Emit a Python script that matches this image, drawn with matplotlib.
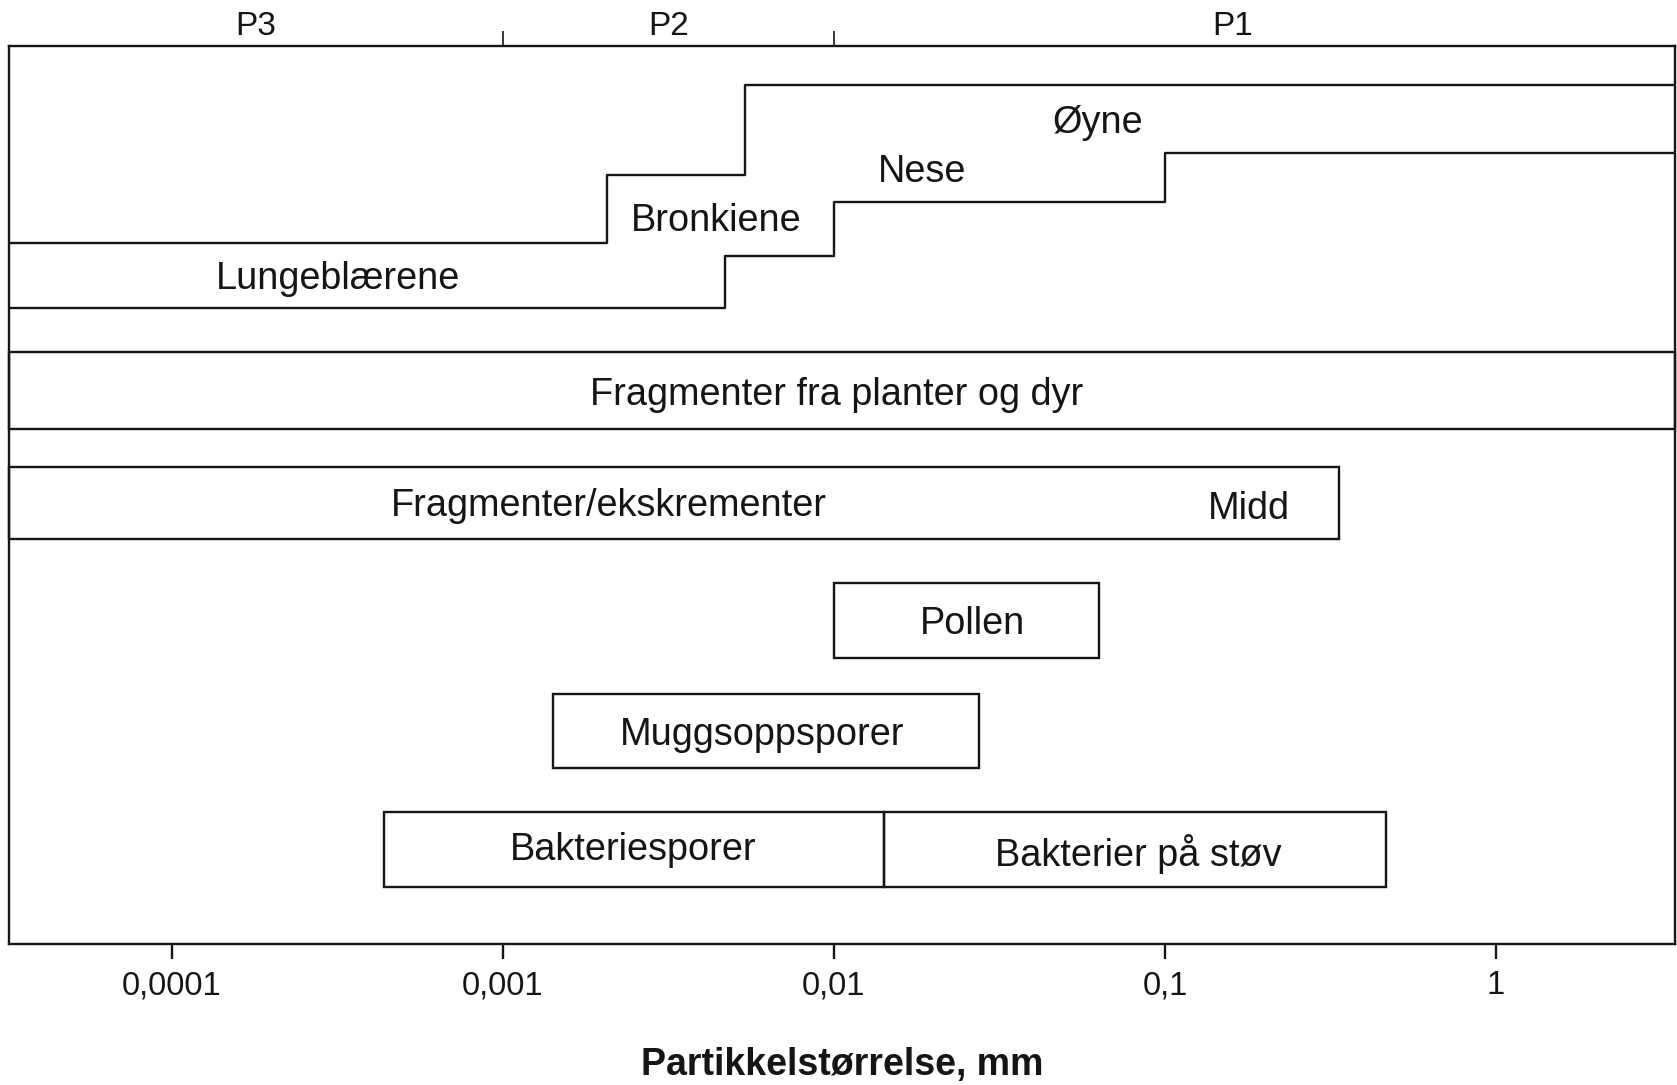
import numpy as np
import matplotlib
matplotlib.use("Agg")
import matplotlib.pyplot as plt
from matplotlib.patches import Rectangle

plt.rcParams['font.family'] = ['Liberation Sans', 'DejaVu Sans']

# ---- data: particle size ranges (mm) ----
x_min, x_max = 10 ** -4.494, 10 ** 0.541

# respiratory deposition regions (step boundaries)
upper_edges = [0.00206, 0.0054]          # upper boundary steps at these sizes
lower_edges = [0.0047, 0.01, 0.1]        # lower boundary steps at these sizes
region_labels = ["Lungeblærene", "Bronkiene", "Nese", "Øyne"]
region_label_x = [3.17e-4, 0.0044, 0.0184, 0.0628]

# particle categories: (label, lower size, upper size)
box_labels = ["Fragmenter fra planter og dyr", "Fragmenter/ekskrementer",
              "Pollen", "Muggsoppsporer", "Bakteriesporer", "Bakterier på støv"]
box_lo = [x_min, x_min, 0.01, 0.00142, 0.000437, 0.0142]
box_hi = [x_max, 0.336, 0.063, 0.0275, 0.0142, 0.464]
box_label_x = [0.0102, 0.00209, 0.0263, 0.00605, 0.00248, 0.0828]
extra_label = "Midd"
extra_label_x = 0.179

tick_vals = [0.0001, 0.001, 0.01, 0.1, 1]
tick_labels = ["0,0001", "0,001", "0,01", "0,1", "1"]
top_ticks = [0.001, 0.01]
top_labels = ["P3", "P2", "P1"]
top_label_x = [1.79e-4, 0.00317, 0.16]
xlabel = "Partikkelstørrelse, mm"

# ---- layout (vertical positions, arbitrary units, top = small) ----
y_top, y_bot = 43, 882
upper_levels = [227, 164, 79]
lower_levels = [288, 239, 189, 143]
region_label_y = [261, 207, 161, 115]
box_y0 = [329, 436, 545, 649, 759, 759]
box_y1 = [401, 504, 615, 718, 829, 829]
box_label_dy = [4, 3, 3, 3, 0, 4]
extra_label_y = 476

LW = 1.7
COL = "#151515"
FS = 27.3

fig = plt.figure(figsize=(16.77, 10.85), dpi=100)
ax = fig.add_axes([0.0051, 0.1302, 0.9937, 0.8274])
ax.set_xscale('log')
ax.set_xlim(x_min, x_max)
ax.set_ylim(y_bot, y_top)

# step boundaries
ux = [x_min] + upper_edges + [x_max]
uy = upper_levels + [upper_levels[-1]]
ax.step(ux, uy, where='post', color=COL, lw=LW)
lx = [x_min] + lower_edges + [x_max]
ly = lower_levels + [lower_levels[-1]]
ax.step(lx, ly, where='post', color=COL, lw=LW)

for lab, x, y in zip(region_labels, region_label_x, region_label_y):
    ax.text(x, y, lab, ha='center', va='center', fontsize=FS, color=COL)

# boxes
for lab, lo, hi, y0, y1, tx, dy in zip(box_labels, box_lo, box_hi, box_y0, box_y1,
                                       box_label_x, box_label_dy):
    ax.add_patch(Rectangle((lo, y0), hi - lo, y1 - y0, fill=False,
                           edgecolor=COL, lw=LW, clip_on=False))
    ax.text(tx, (y0 + y1) / 2 + dy, lab, ha='center', va='center', fontsize=FS, color=COL)
ax.text(extra_label_x, extra_label_y, extra_label, ha='center', va='center',
        fontsize=FS, color=COL)

# bottom axis
ax.set_xticks(tick_vals)
ax.set_xticklabels(tick_labels)
ax.xaxis.set_minor_locator(matplotlib.ticker.NullLocator())
ax.tick_params(axis='x', which='major', direction='out', length=11, width=LW,
               labelsize=23.5, pad=8, colors=COL)
ax.set_yticks([])
ax.set_xlabel(xlabel, fontsize=27, fontweight='bold', labelpad=33, color=COL)
for s in ax.spines.values():
    s.set_linewidth(LW)
    s.set_color(COL)

# top axis with P-zones
ax2 = ax.twiny()
ax2.set_xscale('log')
ax2.set_xlim(x_min, x_max)
ax2.set_xticks(top_ticks)
ax2.set_xticklabels([])
ax2.xaxis.set_minor_locator(matplotlib.ticker.FixedLocator(top_label_x))
ax2.xaxis.set_minor_formatter(matplotlib.ticker.FixedFormatter(top_labels))
ax2.tick_params(axis='x', which='major', direction='out', length=11, width=1.2, colors=COL)
ax2.tick_params(axis='x', which='minor', length=0, labelsize=24, pad=3, colors=COL)
for s in ax2.spines.values():
    s.set_visible(False)

fig.savefig("out.png", dpi=100, facecolor='white')
